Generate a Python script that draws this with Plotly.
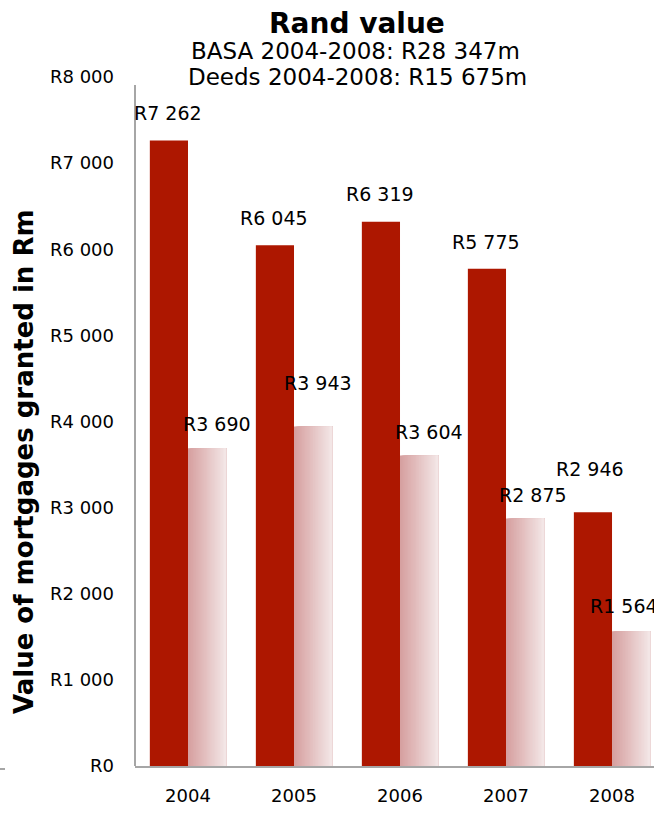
import plotly.graph_objects as go

years = ["2004", "2005", "2006", "2007", "2008"]
basa = [7262, 6045, 6319, 5775, 2946]
deeds = [3690, 3943, 3604, 2875, 1564]
basa_labels = ["R7 262", "R6 045", "R6 319", "R5 775", "R2 946"]
deeds_labels = ["R3 690", "R3 943", "R3 604", "R2 875", "R1 564"]
y_ticks = [0, 1000, 2000, 3000, 4000, 5000, 6000, 7000, 8000]
y_tick_labels = ["R0", "R1 000", "R2 000", "R3 000", "R4 000", "R5 000", "R6 000", "R7 000", "R8 000"]

# label pixel nudges relative to category centre (style only)
basa_lab_dy = [28, 27, 28, 27, 43]
basa_lab_dx = [-20, -20, -20, -20, -22]
deeds_lab_dy = [24, 43, 24, 23, 25]
deeds_lab_dx = [29, 24, 29, 27, 12]

FONT = "DejaVu Sans"
BW = 0.36
xi = list(range(len(years)))

fig = go.Figure()
fig.add_trace(go.Bar(x=xi, y=basa, width=BW, offset=-BW, marker_color="#AD1700",
                     marker_line_width=0, name="BASA"))

# gradient light bars: overlapping slices, each covering from its start to the bar's right edge
n = 24
c0 = (214, 160, 160)
c1 = (243, 230, 230)
for i in range(n):
    t = i / (n - 1)
    col = "rgb(%d,%d,%d)" % tuple(round(c0[k] + (c1[k] - c0[k]) * t) for k in range(3))
    fig.add_trace(go.Bar(x=xi, y=deeds, width=BW - i * BW / n, offset=i * BW / n,
                         marker_color=col, marker_line_width=0, showlegend=False,
                         name="Deeds"))

for k in xi:
    fig.add_annotation(x=k, y=basa[k], text=basa_labels[k], showarrow=False,
                       xref="x", yref="y", xshift=basa_lab_dx[k], yshift=basa_lab_dy[k],
                       font=dict(family=FONT, size=19, color="black"))
    fig.add_annotation(x=k, y=deeds[k], text=deeds_labels[k], showarrow=False,
                       xref="x", yref="y", xshift=deeds_lab_dx[k], yshift=deeds_lab_dy[k],
                       font=dict(family=FONT, size=19, color="black"))

W, H = 654, 815
L, R, T, B = 135, 0, 77, 49
pw, ph = W - L - R, H - T - B

def px(xp):
    return (xp - L) / pw

def py(yp):
    return (H - B - yp) / ph

common = dict(xref="paper", yref="paper", showarrow=False, xanchor="center", yanchor="middle")
fig.add_annotation(x=px(357), y=py(23), text="<b>Rand value</b>",
                   font=dict(family=FONT, size=28, color="black"), **common)
fig.add_annotation(x=px(355), y=py(51), text="BASA 2004-2008: R28 347m",
                   font=dict(family=FONT, size=23, color="black"), **common)
fig.add_annotation(x=px(357), y=py(77), text="Deeds 2004-2008: R15 675m",
                   font=dict(family=FONT, size=23, color="black"), **common)
fig.add_annotation(x=px(24), y=py(462), text="<b>Value of mortgages granted in Rm</b>",
                   textangle=-90, font=dict(family=FONT, size=26, color="black"), **common)

fig.update_layout(
    width=W, height=H, margin=dict(l=L, r=R, t=T, b=B, pad=0),
    barmode="overlay", showlegend=False,
    plot_bgcolor="white", paper_bgcolor="white",
    font=dict(family=FONT, size=18, color="black"),
    xaxis=dict(range=[-0.5, 4.396], tickmode="array", tickvals=xi, ticktext=years,
               showgrid=False, showline=True, linecolor="#A6A6A6", linewidth=2,
               ticks="", ticklabelstandoff=12, tickfont=dict(size=18), zeroline=False),
    yaxis=dict(range=[0, 8000], tickmode="array", tickvals=y_ticks, ticktext=y_tick_labels,
               showgrid=False, showline=False,
               ticks="", ticklabelstandoff=20, tickfont=dict(size=18), zeroline=False),
)
# y axis line (starts slightly below the top tick, as in the reference)
fig.add_shape(type="line", xref="paper", yref="paper", x0=0, x1=0,
              y0=0, y1=py(85), line=dict(color="#A6A6A6", width=2))
fig.add_shape(type="line", xref="paper", yref="paper", x0=px(0), x1=px(5),
              y0=py(769), y1=py(769), line=dict(color="#A6A6A6", width=2))

fig.write_html("out.html")
